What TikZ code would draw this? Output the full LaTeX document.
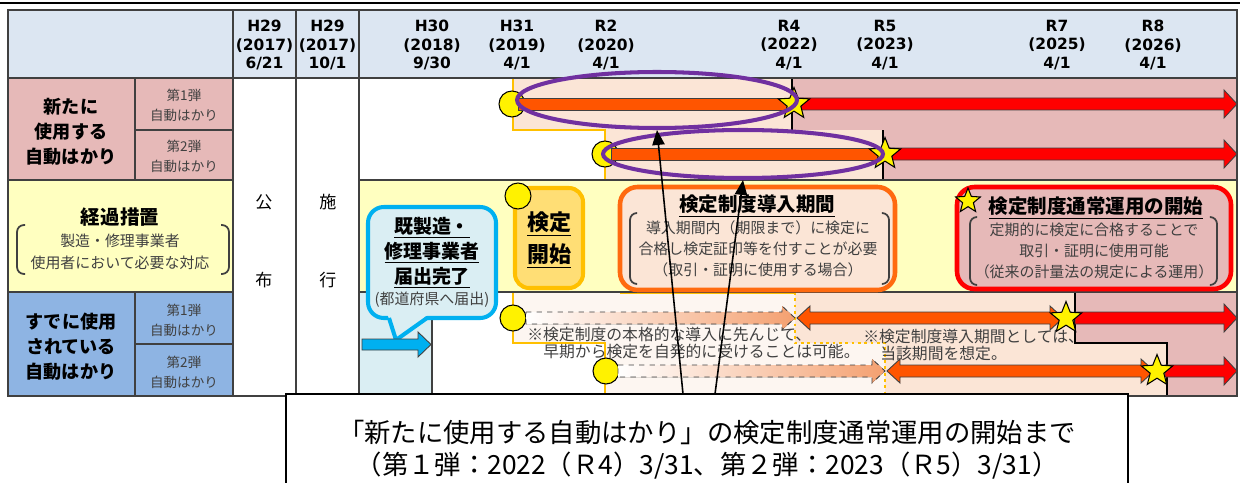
\documentclass[tikz,border=0pt]{standalone}
\usepackage{fontspec}
\setmainfont{Noto Sans CJK JP}
\newfontfamily\lat{DejaVu Sans}
\usetikzlibrary{shapes.geometric,arrows.meta}
\definecolor{hdrbg}{HTML}{DCE6F2}
\definecolor{pinkc}{HTML}{E6B9B8}
\definecolor{yelc}{HTML}{FFFFC0}
\definecolor{bluec}{HTML}{8EB4E3}
\definecolor{ltblue}{HTML}{DAEEF3}
\definecolor{peach}{HTML}{FBE5D6}
\definecolor{pale}{HTML}{FDF6F1}
\definecolor{orbar}{HTML}{FF5500}
\definecolor{redc}{HTML}{FF0000}
\definecolor{gold}{HTML}{FFC000}
\definecolor{purp}{HTML}{7030A0}
\definecolor{cyanc}{HTML}{00B0F0}
\definecolor{salmon}{HTML}{F4A070}
\definecolor{tline}{HTML}{404040}
\definecolor{dgray}{HTML}{404040}
\definecolor{kfill}{HTML}{FFDE75}
\definecolor{orbox}{HTML}{FF6A0F}
\tikzset{
  every node/.style={inner sep=0pt, align=center},
  tbl/.style={draw=tline, line width=0.8pt},
  stepline/.style={draw=gold, line width=1.5pt},
  stepdot/.style={draw=gold, line width=1.6pt, dotted},
  blk/.style={draw=black, line width=1.2pt},
  bar/.style={fill=orbar, draw=tline, line width=0.5pt},
  redarr/.style={fill=redc, draw=tline, line width=0.5pt},
  fadearr/.style={left color=white, right color=salmon, draw=dgray, line width=0.5pt, dashed},
  ycirc/.style={circle, fill=yellow, draw=black, line width=0.6pt, minimum size=0.52cm},
  ystar/.style={star, star points=5, star point ratio=2.3, fill=yellow, draw=black, line width=0.6pt, minimum size=0.66cm},
  oval/.style={ellipse, draw=purp, line width=2.3pt},
  ptr/.style={-{Triangle[length=8.5pt,width=7pt]}, line width=0.9pt, black},
  brk/.style={draw=dgray, line width=1pt, rounded corners=4pt},
  hdr/.style={font=\lat\bfseries\fontsize{8.8}{10.6}\selectfont},
  biglbl/.style={font=\bfseries\fontsize{10.3}{14.2}\selectfont},
  sublbl/.style={font=\fontsize{7.7}{11.4}\selectfont, text=dgray},
  kanji/.style={font=\fontsize{9.7}{11}\selectfont},
  ttl/.style={font=\bfseries\fontsize{11.1}{13}\selectfont},
  bodytxt/.style={font=\fontsize{8.5}{12}\selectfont, text=dgray},
  notetxt/.style={font=\fontsize{9}{9.7}\selectfont, text=dgray, anchor=west},
  bottomtxt/.style={font=\fontsize{15}{19}\selectfont}
}
\begin{document}
\begin{tikzpicture}[x=0.02cm,y=-0.02cm]
\useasboundingbox (0,0) rectangle (1240,483);
\fill[white] (0,0) rectangle (1240,483);
% top rule
\draw[line width=1.4pt] (0,3) -- (1240,3);
% backgrounds
\fill[hdrbg] (8,10) rectangle (1237,78);
\fill[pinkc] (8,78) rectangle (233,180);
\fill[yelc] (8,180) rectangle (233,292);
\fill[bluec] (8,292) rectangle (233,396);
\fill[peach] (513,78) rectangle (792,130);
\fill[peach] (605,130) rectangle (883,180);
\fill[pinkc] (792,78) rectangle (1237,130);
\fill[pinkc] (883,130) rectangle (1237,180);
\fill[yelc] (359,180) rectangle (1237,292);
\fill[ltblue] (359,292) rectangle (432,396);
\fill[pale] (513,292) -- (795,292) -- (795,343) -- (885,343) -- (885,396) -- (605,396) -- (605,343) -- (513,343) -- cycle;
\fill[peach] (795,292) -- (1075,292) -- (1075,343) -- (1167,343) -- (1167,396) -- (885,396) -- (885,343) -- (795,343) -- cycle;
\fill[pinkc] (1075,292) -- (1237,292) -- (1237,396) -- (1167,396) -- (1167,343) -- (1075,343) -- cycle;
% step lines
\draw[stepline] (513,78) -- (513,130) -- (605,130) -- (605,180);
\draw[stepline] (513,292) -- (513,343) -- (605,343) -- (605,396);
\draw[stepline] (620,292.5) -- (795,292.5);
\draw[stepdot] (795,292) -- (795,343) -- (885,343) -- (885,396);
\draw[blk] (792,78) -- (792,130);
\draw[blk] (883,130) -- (883,180);
\draw[blk] (1075,292) -- (1075,343) -- (1167,343) -- (1167,396);
% grid
\draw[tbl] (8,10) rectangle (1237,396);
\draw[tbl] (8,78) -- (1237,78);
\draw[tbl] (233,10) -- (233,396);
\draw[tbl] (296,10) -- (296,396);
\draw[tbl] (359,10) -- (359,396);
\draw[tbl] (135,78) -- (135,180);
\draw[tbl] (135,292) -- (135,396);
\draw[tbl] (135,130) -- (233,130);
\draw[tbl] (135,344) -- (233,344);
\draw[tbl] (8,180) -- (233,180);
\draw[tbl] (359,180) -- (1237,180);
\draw[tbl] (8,292) -- (233,292);
\draw[tbl] (359,292) -- (1237,292);
\draw[tbl] (432,292) -- (432,396);
% header labels
\node[hdr] (h1) at (264.5,45) {H29\\(2017)\\6/21};
\node[hdr] (h2) at (327.5,45) {H29\\(2017)\\10/1};
\node[hdr] (h3) at (432,45) {H30\\(2018)\\9/30};
\node[hdr] (h4) at (517,45) {H31\\(2019)\\4/1};
\node[hdr] (h5) at (606,45) {R2\\(2020)\\4/1};
\node[hdr] (h6) at (789,45) {R4\\(2022)\\4/1};
\node[hdr] (h7) at (885,45) {R5\\(2023)\\4/1};
\node[hdr] (h8) at (1057,45) {R7\\(2025)\\4/1};
\node[hdr] (h9) at (1153,45) {R8\\(2026)\\4/1};
% left labels
\node[biglbl] (lnew) at (71,132) {新たに\\使用する\\自動はかり};
\node[sublbl] (ln1) at (184,105) {第1弾\\自動はかり};
\node[sublbl] (ln2) at (184,156) {第2弾\\自動はかり};
\node[font=\bfseries\fontsize{11.1}{13}\selectfont] (lkk) at (120,217) {経過措置};
\node[font=\fontsize{8.5}{12.5}\selectfont, text=dgray] (lkks) at (120,252) {製造・修理事業者\\使用者において必要な対応};
\draw[brk] (25,225) -- (17,225) -- (17,274) -- (25,274);
\draw[brk] (221,225) -- (229,225) -- (229,274) -- (221,274);
\node[biglbl] (lold) at (71,347) {すでに使用\\されている\\自動はかり};
\node[sublbl] (lo1) at (184,320) {第1弾\\自動はかり};
\node[sublbl] (lo2) at (184,372) {第2弾\\自動はかり};
\node[kanji] (k1) at (264,202) {公};
\node[kanji] (k2) at (264,280) {布};
\node[kanji] (k3) at (328,202) {施};
\node[kanji] (k4) at (328,280) {行};
% callout
\filldraw[fill=ltblue, draw=cyanc, line width=2.3pt, rounded corners=9pt] (368,207) rectangle (496,318);
\fill[ltblue] (387,313) -- (430,313) -- (396,340) -- cycle;
\draw[cyanc, line width=2.3pt, line join=round] (389,318) -- (396,340) -- (427,318);
\node[font=\bfseries\fontsize{10.8}{14.2}\selectfont] (cb) at (432,253) {\underline{既製造・}\\\underline{修理事業者}\\\underline{届出完了}};
\node[font=\fontsize{8.5}{10}\selectfont, text=dgray] (cbs) at (432,300) {(都道府県へ届出)};
\filldraw[fill=cyanc, draw=tline, line width=0.5pt] (362,339) -- (418,339) -- (418,332) -- (431,344.5) -- (418,357) -- (418,350) -- (362,350) -- cycle;
% kentei kaishi
\filldraw[fill=kfill, draw=gold, line width=2.3pt, rounded corners=8pt] (515,188) rectangle (583,288);
\node[font=\bfseries\fontsize{12.5}{18.2}\selectfont] (ks) at (549,240) {\underline{検定}\\\underline{開始}};
\node[ycirc] (c0) at (518,196) {};
% introduction period box
\filldraw[fill=peach, draw=orbox, line width=2.6pt, rounded corners=10pt] (620,187) rectangle (895,290);
\node[ttl] (t1) at (757,206) {\underline{検定制度導入期間}};
\node[bodytxt] (b1) at (758,249) {導入期間内（期限まで）に検定に\\合格し検定証印等を付すことが必要\\（取引・証明に使用する場合）};
\draw[brk] (637,213) -- (630,213) -- (630,284) -- (637,284);
\draw[brk] (882,213) -- (889,213) -- (889,284) -- (882,284);
% normal operation box
\filldraw[fill=pinkc, draw=redc, line width=2.6pt, rounded corners=10pt] (957,187) rectangle (1231,289);
\node[ttl] (t2) at (1096,208) {\underline{検定制度通常運用の開始}};
\node[bodytxt] (b2) at (1094,251) {定期的に検定に合格することで\\取引・証明に使用可能\\（従来の計量法の規定による運用）};
\draw[brk] (977,217) -- (970,217) -- (970,285) -- (977,285);
\draw[brk] (1210,217) -- (1217,217) -- (1217,285) -- (1210,285);
\node[ystar, minimum size=0.52cm] (s0) at (968,201) {};
% row new 1
\node[ycirc] (c1) at (512,104) {};
\filldraw[bar] (518,98) rectangle (790,110);
\filldraw[redarr] (800,98) -- (1224,98) -- (1224,90) -- (1237,104) -- (1224,118) -- (1224,110) -- (800,110) -- cycle;
\node[ystar] (s1) at (794,104) {};
% row new 2
\node[ycirc] (c2) at (605,154) {};
\filldraw[bar] (611,148) rectangle (880,160);
\filldraw[redarr] (890,148) -- (1224,148) -- (1224,140) -- (1237,154) -- (1224,168) -- (1224,160) -- (890,160) -- cycle;
\node[ystar] (s2) at (885,154) {};
% row old 1
\node[ycirc] (c3) at (513,318) {};
\filldraw[fadearr] (526,312) -- (782,312) -- (782,306) -- (795,318) -- (782,330) -- (782,324) -- (526,324) -- cycle;
\filldraw[bar] (797,318) -- (810,306) -- (810,312) -- (1050,312) -- (1050,306) -- (1063,318) -- (1050,330) -- (1050,324) -- (810,324) -- (810,330) -- cycle;
\filldraw[redarr] (1075,312) -- (1224,312) -- (1224,304) -- (1237,318) -- (1224,332) -- (1224,324) -- (1075,324) -- cycle;
\node[ystar] (s3) at (1066,318) {};
% row old 2
\node[ycirc] (c4) at (606,371) {};
\filldraw[fadearr] (618,365) -- (872,365) -- (872,359) -- (885,371) -- (872,383) -- (872,377) -- (618,377) -- cycle;
\filldraw[bar] (887,371) -- (900,359) -- (900,365) -- (1141,365) -- (1141,359) -- (1154,371) -- (1141,383) -- (1141,377) -- (900,377) -- (900,383) -- cycle;
\filldraw[redarr] (1165,365) -- (1224,365) -- (1224,357) -- (1237,371) -- (1224,385) -- (1224,377) -- (1165,377) -- cycle;
\node[ystar] (s4) at (1157,371) {};
% notes
\node[notetxt] (n1) at (527,334) {※検定制度の本格的な導入に先んじて、};
\node[notetxt] (n2) at (543,351) {早期から検定を自発的に受けることは可能。};
\node[notetxt] (n3) at (863,337) {※検定制度導入期間としては、};
\node[notetxt] (n4) at (880,354) {当該期間を想定。};
% ellipses
\node[oval, minimum width=5.6cm, minimum height=1.12cm] (e1) at (657,100) {};
\node[oval, minimum width=5.6cm, minimum height=0.96cm] (e2) at (743,154) {};
% bottom box
\filldraw[fill=white, draw=black, line width=0.8pt] (286,394) rectangle (1128,500);
\coordinate (p1) at (683,394);
\coordinate (p2) at (715,394);
\draw[ptr] (p1) -- (e1.south);
\draw[ptr] (p2) -- (e2.south);
\node[bottomtxt] (bt1) at (707,432) {「新たに使用する自動はかり」の検定制度通常運用の開始まで};
\node[bottomtxt] (bt2) at (707,466) {（第１弾：2022（Ｒ4）3/31、第２弾：2023（Ｒ5）3/31）};
\end{tikzpicture}
\end{document}
